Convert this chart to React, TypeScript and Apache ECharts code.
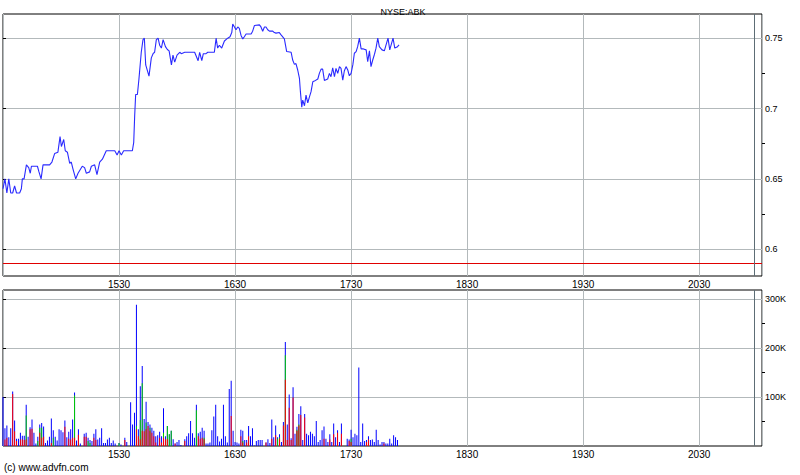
import React, { useEffect, useRef } from 'react';
import * as echarts from 'echarts';

const TITLE = 'NYSE:ABK';
const COPYRIGHT = '(c) www.advfn.com';
const FONT = '"Liberation Sans", Arial, sans-serif';

// x axis: minutes since 14:30
const X_MIN = 0;
const X_MAX = 392.5;
const xTickMinutes = [60, 120, 180, 240, 300, 360];
const xTickLabels = ['1530', '1630', '1730', '1830', '1930', '2030'];

const PRICE_MIN = 0.581;
const PRICE_MAX = 0.7672;
const priceTicks = [0.6, 0.65, 0.7, 0.75];
const priceMinorTicks = [0.625, 0.675, 0.725];
const PREV_CLOSE = 0.59;
const SESSION_END = 388.5;

const VOL_MAX = 318000;
const volumeTicks = [100000, 200000, 300000];
const volumeMinorTicks = [50000, 150000, 250000];

const priceTimes = [
  0, 1, 2, 3, 4, 5, 6, 7, 8.6, 9.5, 10, 10.9, 12.1, 13.3, 14.1, 14.7, 17.8, 18.6, 19.7, 20.7,
  24.1, 25.3, 26.7, 28.4, 29.5, 30.2, 31.4, 32.2, 33.3, 34.5, 35.3, 36.2, 37.6, 38.8, 41, 42.2,
  43.1, 44.8, 45.7, 47.4, 48.6, 50, 51.4, 53.4, 57.8, 59, 60, 61.2, 62.4, 66.9, 67.6, 68.1, 68.6,
  69.5, 70.3, 71.5, 72.4, 73.1, 73.8, 75.5, 76.7, 77.6, 78.4, 79.3, 80.2, 81, 81.9, 82.8, 84, 85,
  85.9, 87.1, 87.9, 88.8, 90, 91.4, 92.2, 94, 99.1, 100.9, 101.7, 102.8, 103.6, 105, 105.9, 109.3,
  110.2, 111, 111.9, 113.1, 114.5, 116.2, 117.4, 118.3, 118.8, 119.7, 120.5, 121.4, 122.2, 123.1,
  124, 124.8, 125.7, 128.3, 129.1, 130, 132.6, 133.4, 134.3, 135.2, 136, 136.9, 137.8, 139.5,
  140.3, 141.2, 142.9, 143.8, 145.5, 146.7, 149, 149.8, 150.7, 151.5, 152.4, 153.3, 153.8, 154.5,
  155, 155.9, 156.7, 157.6, 158.4, 159.3, 160.2, 161, 162.8, 163.6, 164.5, 165.3, 166.2, 167.9,
  168.8, 169.6, 170.5, 171.4, 172.2, 173.1, 174, 174.8, 175.7, 176.5, 177.4, 178.3, 179.1, 180,
  180.9, 181.7, 182.6, 183.4, 184.3, 185.2, 186.4, 187.8, 188.6, 189.5, 190.3, 191.2, 192.1,
  192.9, 193.8, 194.6, 196, 197.2, 199.1, 200, 201.7, 202.6, 203.8, 204.8,
];
const priceValues = [
  0.643, 0.65, 0.64, 0.65, 0.64, 0.64, 0.645, 0.64, 0.64, 0.643, 0.65, 0.65, 0.66, 0.658, 0.654,
  0.659, 0.659, 0.655, 0.65, 0.66, 0.66, 0.662, 0.668, 0.669, 0.68, 0.673, 0.678, 0.67, 0.669,
  0.661, 0.662, 0.657, 0.65, 0.654, 0.659, 0.658, 0.654, 0.655, 0.659, 0.66, 0.653, 0.662, 0.664,
  0.67, 0.67, 0.667, 0.67, 0.667, 0.67, 0.67, 0.676, 0.695, 0.71, 0.71, 0.721, 0.74, 0.749, 0.75,
  0.731, 0.723, 0.736, 0.739, 0.74, 0.749, 0.75, 0.745, 0.743, 0.749, 0.744, 0.742, 0.741, 0.731,
  0.738, 0.733, 0.738, 0.74, 0.739, 0.74, 0.74, 0.734, 0.74, 0.734, 0.739, 0.739, 0.74, 0.74,
  0.75, 0.743, 0.745, 0.743, 0.748, 0.75, 0.751, 0.754, 0.76, 0.758, 0.756, 0.758, 0.757, 0.752,
  0.7495, 0.751, 0.753, 0.753, 0.755, 0.759, 0.7595, 0.758, 0.755, 0.758, 0.758, 0.756, 0.755,
  0.755, 0.754, 0.7536, 0.754, 0.7524, 0.7495, 0.7405, 0.74, 0.7345, 0.7314, 0.732, 0.7274,
  0.7214, 0.712, 0.701, 0.706, 0.702, 0.7095, 0.704, 0.708, 0.712, 0.719, 0.7195, 0.721, 0.725,
  0.728, 0.728, 0.72, 0.721, 0.725, 0.7226, 0.729, 0.7226, 0.7286, 0.725, 0.7298, 0.7286, 0.7202,
  0.7267, 0.7298, 0.7274, 0.7233, 0.725, 0.731, 0.7393, 0.7405, 0.744, 0.75, 0.7424, 0.7424,
  0.7417, 0.7333, 0.741, 0.7298, 0.7345, 0.7386, 0.7429, 0.75, 0.744, 0.7417, 0.741, 0.75,
  0.7417, 0.75, 0.743, 0.7437, 0.7452,
];

// volume per minute (thousands), split by colour; index = minutes since 14:30
const volRedK = [
  0, 13, 17, 0, 0, 106, 30, 10, 0, 13,
  13, 12, 13, 0, 34, 35, 0, 0, 0, 27,
  17, 19, 0, 0, 0, 6, 0, 0, 0, 0,
  0, 0, 39, 0, 15, 13, 17, 17, 0, 23,
  0, 0, 19, 19, 0, 0, 0, 17, 12, 0,
  0, 0, 0, 0, 0, 0, 0, 0, 0, 0,
  0, 0, 0, 12, 0, 0, 0, 0, 0, 34,
  20, 14, 31, 30, 34, 41, 31, 27, 20, 7,
  0, 17, 7, 17, 14, 14, 0, 0, 0, 5,
  0, 0, 0, 0, 10, 0, 0, 0, 0, 0,
  0, 20, 15, 17, 14, 0, 0, 0, 0, 0,
  0, 0, 0, 0, 0, 0, 0, 0, 61, 0,
  0, 0, 0, 20, 7, 0, 7, 20, 0, 0,
  0, 0, 0, 0, 0, 0, 7, 0, 0, 15,
  0, 22, 0, 15, 0, 42, 135, 12, 78, 12,
  99, 0, 31, 42, 63, 0, 58, 0, 0, 0,
  0, 0, 0, 0, 0, 0, 15, 0, 0, 13,
  0, 24, 0, 27, 0, 25, 0, 0, 0, 10,
  8, 0, 0, 0, 0, 0, 0, 0, 8, 13,
  0, 0, 0, 0, 0, 0, 0, 5, 0, 0,
  0, 0, 0, 0, 0,
];
const volGreenK = [
  0, 0, 0, 0, 0, 0, 0, 0, 0, 0,
  0, 0, 49, 0, 0, 0, 0, 0, 10, 10,
  20, 0, 0, 0, 0, 0, 17, 0, 0, 0,
  0, 0, 0, 0, 0, 0, 0, 86, 0, 0,
  0, 0, 0, 0, 10, 6, 0, 0, 0, 0,
  0, 0, 0, 0, 0, 0, 0, 0, 0, 0,
  6, 0, 0, 0, 0, 0, 0, 0, 0, 7,
  0, 39, 97, 0, 14, 0, 6, 0, 0, 0,
  0, 0, 0, 10, 0, 27, 24, 31, 0, 0,
  0, 0, 0, 0, 0, 0, 0, 0, 0, 0,
  73, 0, 0, 0, 3, 0, 0, 0, 0, 0,
  0, 0, 0, 0, 0, 0, 0, 0, 0, 0,
  0, 0, 0, 0, 3, 0, 0, 0, 0, 0,
  0, 0, 0, 0, 0, 0, 0, 0, 0, 0,
  0, 0, 15, 3, 0, 0, 50, 0, 0, 0,
  0, 0, 2, 2, 0, 0, 0, 0, 0, 0,
  0, 0, 0, 0, 0, 0, 0, 0, 0, 0,
  0, 0, 0, 0, 0, 0, 0, 0, 0, 0,
  7, 0, 0, 0, 0, 0, 0, 0, 0, 0,
  0, 0, 0, 0, 0, 0, 0, 0, 0, 0,
  0, 0, 0, 0, 0,
];
const volBlueK = [
  100, 23, 25, 18, 36, 5, 22, 5, 15, 14,
  8, 9, 22, 19, 4, 19, 27, 5, 9, 7,
  10, 21, 6, 11, 19, 50, 15, 19, 11, 34,
  32, 28, 13, 18, 14, 21, 37, 6, 11, 11,
  5, 0, 6, 8, 7, 6, 10, 8, 22, 13,
  17, 36, 6, 6, 13, 17, 6, 11, 5, 0,
  0, 3, 0, 5, 8, 0, 89, 44, 68, 247,
  14, 69, 35, 25, 42, 8, 7, 10, 11, 13,
  22, 12, 13, 50, 6, 0, 0, 0, 14, 0,
  8, 12, 2, 0, 4, 20, 26, 51, 26, 17,
  11, 6, 14, 20, 14, 5, 5, 7, 32, 60,
  84, 20, 9, 15, 84, 20, 7, 116, 72, 31,
  8, 7, 5, 13, 21, 12, 5, 21, 20, 36,
  1, 10, 12, 12, 12, 0, 0, 14, 6, 39,
  18, 20, 3, 6, 8, 7, 27, 32, 27, 4,
  21, 25, 6, 21, 18, 12, 7, 25, 22, 29,
  25, 20, 51, 8, 12, 32, 25, 15, 8, 11,
  8, 22, 18, 5, 8, 21, 0, 0, 15, 3,
  18, 18, 25, 22, 160, 8, 46, 10, 4, 7,
  12, 13, 8, 33, 12, 3, 8, 3, 5, 5,
  15, 5, 22, 18, 12,
];

const GRID_LINE = '#b3b9bb';

function xAxisFor(gridIndex: number) {
  return {
    type: 'value',
    gridIndex,
    min: X_MIN,
    max: X_MAX,
    interval: 60,
    axisLine: { show: false },
    axisTick: { show: false },
    axisLabel: {
      margin: 3,
      fontSize: 10,
      color: '#000',
      fontFamily: FONT,
      formatter: (v: number) => {
        const i = xTickMinutes.indexOf(Math.round(v));
        return i >= 0 ? xTickLabels[i] : '';
      },
    },
    splitLine: { show: true, lineStyle: { color: GRID_LINE, width: 1 } },
  };
}

function majorY(gridIndex: number, min: number, max: number, ticks: number[], fmt: (v: number) => string) {
  return {
    type: 'value',
    gridIndex,
    position: 'right',
    min,
    max,
    axisLine: { show: false },
    axisTick: { show: true, customValues: ticks, length: 3, inside: false, lineStyle: { color: '#000' } },
    axisLabel: { customValues: ticks, margin: 3, fontSize: 9, color: '#000', fontFamily: FONT, formatter: fmt },
    splitLine: { show: true, lineStyle: { color: GRID_LINE, width: 1 } },
  };
}

function minorY(gridIndex: number, min: number, max: number, ticks: number[]) {
  return {
    type: 'value',
    gridIndex,
    position: 'right',
    min,
    max,
    axisLine: { show: false },
    axisTick: { show: true, customValues: ticks, length: 3, lineStyle: { color: '#000' } },
    axisLabel: { show: false },
    splitLine: { show: false },
  };
}

export default function App() {
  const ref = useRef<HTMLDivElement>(null);

  useEffect(() => {
    document.body.style.margin = '0';
    if (!ref.current) return;
    const chart = echarts.init(ref.current, undefined, { renderer: 'svg' });

    const priceData = priceTimes.map((t, i) => [t, priceValues[i]]);
    // layered bars (drawn over each other): total, red+green, red
    const totalBars = volBlueK.map((b, i) => [i, (b + volGreenK[i] + volRedK[i]) * 1000]);
    const greenBars = volGreenK
      .map((g, i) => [i, (g + volRedK[i]) * 1000, g])
      .filter((d) => d[2] > 0)
      .map((d) => [d[0], d[1]]);
    const redBars = volRedK.map((r, i) => [i, r * 1000]).filter((d) => d[1] > 0);

    const barBase = {
      type: 'bar',
      xAxisIndex: 1,
      yAxisIndex: 2,
      barWidth: 1,
      barGap: '-100%',
    };

    chart.setOption({
      animation: false,
      backgroundColor: '#fff',
      title: {
        text: TITLE,
        left: 398,
        top: 2,
        textAlign: 'center',
        textStyle: { fontSize: 9, fontWeight: 'normal', color: '#000', fontFamily: FONT },
      },
      graphic: [
        {
          type: 'text',
          left: 4,
          top: 462,
          style: { text: COPYRIGHT, fontSize: 10, fill: '#000', fontFamily: FONT },
        },
      ],
      grid: [
        { left: 3, top: 14, width: 759, height: 262, show: true, borderColor: '#000', borderWidth: 1, backgroundColor: '#fff' },
        { left: 3, top: 290, width: 759, height: 156, show: true, borderColor: '#000', borderWidth: 1, backgroundColor: '#fff' },
      ],
      xAxis: [xAxisFor(0), xAxisFor(1)],
      yAxis: [
        majorY(0, PRICE_MIN, PRICE_MAX, priceTicks, (v: number) => String(+Number(v).toFixed(3))),
        minorY(0, PRICE_MIN, PRICE_MAX, priceMinorTicks),
        majorY(1, 0, VOL_MAX, volumeTicks, (v: number) => `${Math.round(v / 1000)}K`),
        minorY(1, 0, VOL_MAX, volumeMinorTicks),
      ],
      series: [
        {
          type: 'line',
          xAxisIndex: 0,
          yAxisIndex: 0,
          data: priceData,
          symbol: 'none',
          showSymbol: false,
          lineStyle: { color: '#2a2aff', width: 1.1 },
          z: 5,
          markLine: {
            silent: true,
            symbol: 'none',
            label: { show: false },
            data: [
              { yAxis: PREV_CLOSE, lineStyle: { color: '#e00000', width: 1, type: 'solid' } },
              { xAxis: SESSION_END, lineStyle: { color: '#5d6d75', width: 1, type: 'solid' } },
            ],
          },
        },
        {
          ...barBase,
          itemStyle: { color: '#0000ff' },
          data: totalBars,
          z: 2,
          markLine: {
            silent: true,
            symbol: 'none',
            label: { show: false },
            data: [{ xAxis: SESSION_END, lineStyle: { color: '#5d6d75', width: 1, type: 'solid' } }],
          },
        },
        { ...barBase, itemStyle: { color: '#00cc00' }, data: greenBars, z: 3 },
        { ...barBase, itemStyle: { color: '#ff0000' }, data: redBars, z: 4 },
      ],
    });

    return () => chart.dispose();
  }, []);

  return <div ref={ref} style={{ width: 800, height: 475 }} />;
}
